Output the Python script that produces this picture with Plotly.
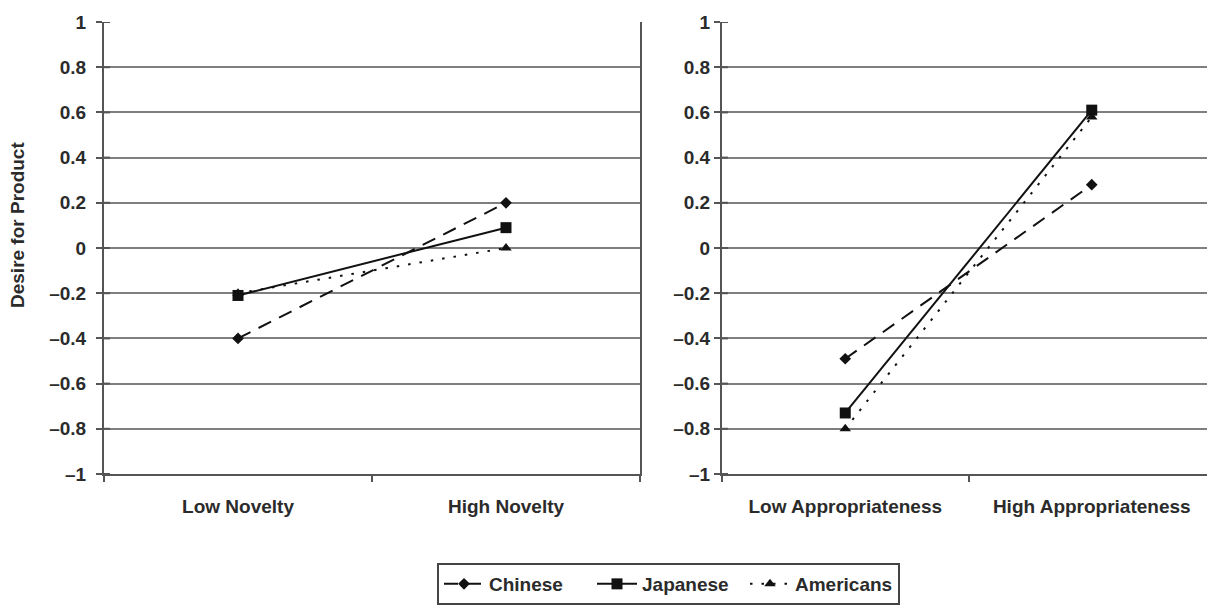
import plotly.graph_objects as go

# ---- data ----
novelty_cats = ["Low Novelty", "High Novelty"]
approp_cats = ["Low Appropriateness", "High Appropriateness"]

chinese_novelty = [-0.40, 0.20]
japanese_novelty = [-0.21, 0.09]
americans_novelty = [-0.20, 0.00]

chinese_approp = [-0.49, 0.28]
japanese_approp = [-0.73, 0.61]
americans_approp = [-0.80, 0.58]

y_tick_vals = [1, 0.8, 0.6, 0.4, 0.2, 0, -0.2, -0.4, -0.6, -0.8, -1]
y_tick_text = ["1", "0.8", "0.6", "0.4", "0.2", "0", "\u20130.2", "\u20130.4", "\u20130.6", "\u20130.8", "\u20131"]

series_names = ["Chinese", "Japanese", "Americans"]

# ---- styling ----
FONT = "Liberation Sans, Arial, sans-serif"
TXT = "#2b2b2b"
LINE = "#111111"
GRID = "#7f7f7f"
AXIS = "#555555"
OFF = 8  # page body margin offset

styles = {
    "Chinese": dict(dash="14px,9px", symbol="diamond", size=9),
    "Japanese": dict(dash="solid", symbol="square", size=11),
    "Americans": dict(dash="2.5px,9px", symbol="triangle-up", size=10),
}

fig = go.Figure()

panel_data = [
    ("x", "y", novelty_cats, [chinese_novelty, japanese_novelty, americans_novelty], True),
    ("x2", "y2", approp_cats, [chinese_approp, japanese_approp, americans_approp], False),
]

for xa, ya, cats, vals, show in panel_data:
    for name, v in zip(series_names, vals):
        st = styles[name]
        fig.add_trace(go.Scatter(
            x=cats, y=v, name=name, xaxis=xa, yaxis=ya,
            mode="lines+markers", showlegend=show,
            line=dict(color=LINE, width=2, dash=st["dash"]),
            marker=dict(symbol=st["symbol"], size=st["size"], color=LINE),
        ))

W, H = 1215, 605
y_dom = [1 - (474 - OFF) / H, 1 - (22 - OFF) / H]
x1_dom = [(104 - OFF) / W, (640 - OFF) / W]
x2_dom = [(722 - OFF) / W, (1215 - OFF) / W]

bold = dict(family=FONT, size=19, color=TXT, weight="bold")

common_x = dict(
    type="category", range=[-0.5, 1.5], showgrid=False, zeroline=False,
    showline=True, linecolor=AXIS, linewidth=2,
    ticks="outside", tickson="boundaries", ticklen=6, tickwidth=2, tickcolor=AXIS,
    tickfont=bold, ticklabelstandoff=14,
)
common_y = dict(
    range=[-1, 1], tickmode="array", tickvals=y_tick_vals, ticktext=y_tick_text,
    showgrid=True, gridcolor=GRID, gridwidth=2, zeroline=False,
    showline=True, linecolor=AXIS, linewidth=2,
    ticks="outside", ticklen=6, tickwidth=2, tickcolor=AXIS,
    tickfont=bold,
)

fig.update_layout(
    width=W, height=H,
    margin=dict(l=0, r=0, t=0, b=0, autoexpand=False),
    paper_bgcolor="white", plot_bgcolor="white",
    xaxis=dict(domain=x1_dom, anchor="y", **common_x),
    yaxis=dict(domain=y_dom, anchor="x", mirror=True, ticklabelstandoff=6, **common_y),
    xaxis2=dict(domain=x2_dom, anchor="y2", **common_x),
    yaxis2=dict(domain=y_dom, anchor="x2", ticklabelstandoff=0, **common_y),
    showlegend=True,
    legend=dict(
        orientation="h", x=(437 - OFF) / W, xanchor="left", y=1 - (563 - OFF) / H, yanchor="top",
        bordercolor="#444444", borderwidth=2, bgcolor="white",
        font=bold, itemwidth=40, tracegroupgap=0,
        entrywidth=98, entrywidthmode="pixels",
    ),
)

# inward half of the crossing tick marks on both y-axes
for xref, yref, dom in [("x domain", "y", x1_dom), ("x2 domain", "y2", x2_dom)]:
    frac = 6 / ((dom[1] - dom[0]) * W)
    for v in y_tick_vals:
        fig.add_shape(type="line", xref=xref, yref=yref, x0=0, x1=frac, y0=v, y1=v,
                      line=dict(color=AXIS, width=2), layer="above")

fig.add_annotation(
    text="Desire for Product", textangle=-90, showarrow=False,
    xref="paper", yref="paper", x=(17 - OFF) / W, y=1 - (225 - OFF) / H,
    xanchor="center", yanchor="middle",
    font=bold,
)

fig.write_html("out.html")
